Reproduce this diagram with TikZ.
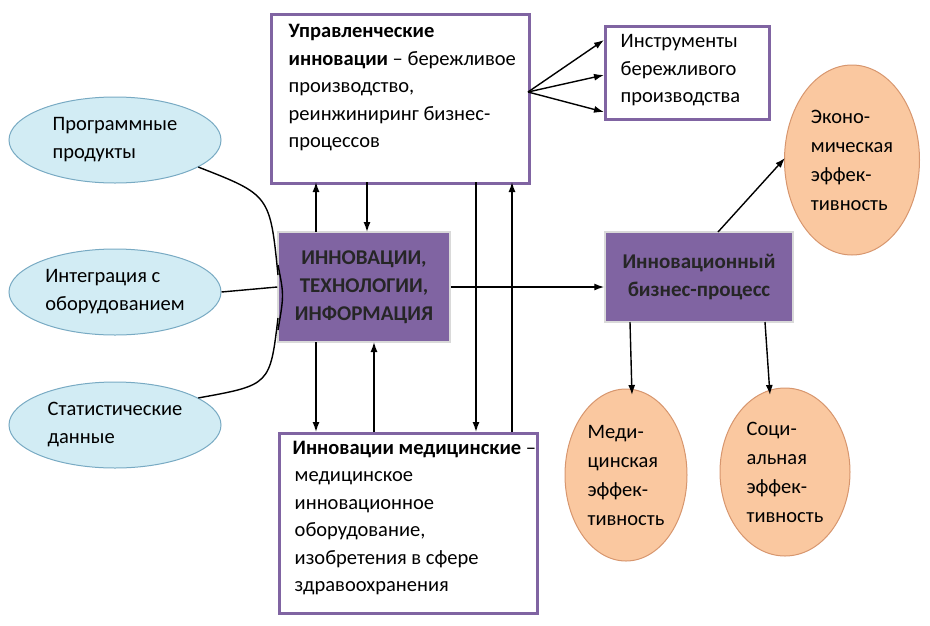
\documentclass[tikz,border=0pt]{standalone}
\usepackage{fontspec}
\setmainfont{Carlito}
\usetikzlibrary{shapes.geometric,positioning,arrows.meta}
\definecolor{lilac}{RGB}{128,100,162}
\definecolor{skyfill}{RGB}{210,236,244}
\definecolor{skydraw}{RGB}{120,170,195}
\definecolor{peach}{RGB}{250,200,160}
\definecolor{peachdraw}{RGB}{215,150,110}

\begin{document}
\begin{tikzpicture}[x=1pt,y=-1pt,>={Latex[length=10pt,width=7pt]},
  every path/.style={line width=1.4pt},
  framebox/.style={draw=lilac,line width=3pt,fill=white,anchor=north west},
  boxtext/.style={align=left,font=\fontsize{20.5}{27.5}\selectfont,inner sep=0pt,anchor=north west},
  hubbox/.style={fill=lilac,draw=white!85!black,line width=1.5pt,align=center,font=\fontsize{21}{28}\selectfont\bfseries,text=black!85},
  cloud/.style={ellipse,draw=skydraw,line width=1pt,fill=skyfill,minimum width=212pt,minimum height=86pt,inner sep=0pt,align=left,font=\fontsize{20.5}{28}\selectfont},
  egg/.style={ellipse,draw=peachdraw,line width=1pt,fill=peach,inner sep=0pt,align=left,font=\fontsize{20.5}{29}\selectfont}]
\useasboundingbox (0,0) rectangle (930,625);

% Boxes
\node[framebox,minimum width=258pt,minimum height=169pt] (mgmt) at (270,13) {};
\node[boxtext] (mgmttext) at (288,24)
  {\textbf{Управленческие}\\\textbf{инновации} -- бережливое\\производство,\\реинжиниринг бизнес-\\процессов};
\node[framebox,minimum width=164pt,minimum height=93pt] (tools) at (604,25) {};
\node[boxtext] (toolstext) at (620,34) {Инструменты\\бережливого\\производства};
\node[framebox,minimum width=258pt,minimum height=180pt] (med) at (278,432) {};
\node[boxtext] (medtext) at (292,440)
  {\textbf{Инновации медицинские} --\\\hspace*{2pt}медицинское\\\hspace*{2pt}инновационное\\\hspace*{2pt}оборудование,\\\hspace*{2pt}изобретения в сфере\\\hspace*{2pt}здравоохранения};
\node[hubbox,minimum width=172pt,minimum height=110pt] (hub) at (364,287) {ИННОВАЦИИ,\\ТЕХНОЛОГИИ,\\ИНФОРМАЦИЯ};
\node[hubbox,minimum width=188pt,minimum height=90pt] (proc) at (699,277) {Инновационный\\бизнес-процесс};

% Ellipses
\node[cloud] (soft) at (115,140) {Программные\\продукты};
\node[cloud] (integ) at (115,292) {Интеграция с\\оборудованием};
\node[cloud] (stat) at (115,425) {Статистические\\данные};

% Eggs
\node[egg,minimum width=135pt,minimum height=190pt] (econ) at (852,160) {Эконо-\\мическая\\эффек-\\тивность};
\node[egg,minimum width=122pt,minimum height=172pt] (meff) at (626,475) {Меди-\\цинская\\эффек-\\тивность};
\node[egg,minimum width=130pt,minimum height=168pt] (seff) at (785,472) {Соци-\\альная\\эффек-\\тивность};

% Edges
\draw (soft.-18) .. controls (270,195) .. (278,275);
\draw (stat.18) .. controls (270,385) .. (278,318);
\draw (278,265) .. controls (284,295) .. (278,330);
\draw (integ.east) -- (hub.west);
\draw[->] (hub.east) -- (proc.west |- hub.east);
\draw[->] (316,232) -- (316,182);
\draw[->] (367,182) -- (367,232);
\draw[->] (476,182) -- (476,432);
\draw[->] (512,432) -- (512,182);
\draw[->] (316,342) -- (316,432);
\draw[->] (374,432) -- (374,342);
\foreach \y in {40,75,112} \draw[->] (528,92) -- (604,\y);
\draw[->] (718,232) -- (785,158);
\draw[->] (630,322) -- (632,395);
\draw[->] (765,322) -- (770,395);
\end{tikzpicture}
\end{document}
